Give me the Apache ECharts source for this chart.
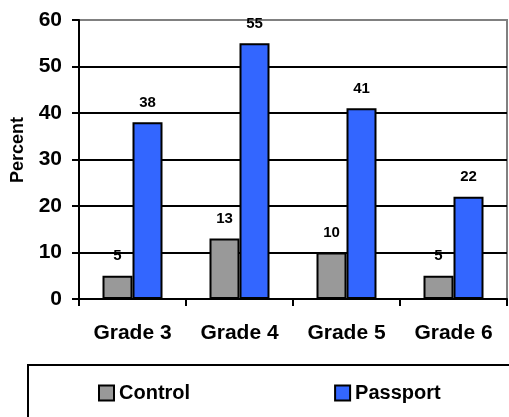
<!DOCTYPE html>
<html>
<head>
<meta charset="utf-8">
<script src="https://cdn.jsdelivr.net/npm/echarts@6/dist/echarts.min.js"></script>
<style>
  html, body { margin: 0; padding: 0; background: #fff; }
  #chart { width: 509px; height: 417px; }
</style>
</head>
<body>
<div id="chart"></div>
<script>
    // 数据
    const categories = ['Grade 3', 'Grade 4', 'Grade 5', 'Grade 6'];
    const controlValues = [5, 13, 10, 5];
    const passportValues = [38, 55, 41, 22];
    const yTicks = { min: 0, max: 60, interval: 10 };

    const font = "'Liberation Sans', Arial, sans-serif";

    const barLabel = {
        show: true,
        position: 'top',
        distance: 12,
        color: '#000',
        fontFamily: font,
        fontWeight: 'bold',
        fontSize: 15
    };

    const chart = echarts.init(document.getElementById('chart'));
    const option = {
        backgroundColor: '#fff',
        animation: false,
        grid: {
            left: 79,
            right: 2,
            top: 20,
            bottom: 118,
            show: true,
            borderColor: '#808080',
            borderWidth: 2,
            backgroundColor: 'transparent'
        },
        legend: {
            left: 98,
            top: 383,
            padding: 0,
            itemWidth: 15,
            itemHeight: 15,
            itemGap: 144,
            icon: 'rect',
            textStyle: {
                fontFamily: font,
                fontWeight: 'bold',
                fontSize: 20,
                color: '#000'
            },
            data: ['Control', 'Passport']
        },
        // 图例外框
        graphic: [{
            type: 'rect',
            shape: { x: 28, y: 365, width: 600, height: 100 },
            style: { fill: 'none', stroke: '#000', lineWidth: 2 },
            silent: true
        }],
        xAxis: {
            type: 'category',
            data: categories,
            axisLine: { lineStyle: { color: '#000', width: 2 } },
            axisTick: { show: true, length: 7, lineStyle: { color: '#000', width: 2 } },
            axisLabel: {
                margin: 24,
                color: '#000',
                fontFamily: font,
                fontWeight: 'bold',
                fontSize: 21
            }
        },
        yAxis: {
            type: 'value',
            min: yTicks.min,
            max: yTicks.max,
            interval: yTicks.interval,
            name: 'Percent',
            nameLocation: 'middle',
            nameRotate: 90,
            nameGap: 52,
            nameTextStyle: {
                color: '#000',
                fontFamily: font,
                fontWeight: 'bold',
                fontSize: 18,
                padding: [0, 0, 0, 19]
            },
            axisLine: { show: true, lineStyle: { color: '#000', width: 2 } },
            axisTick: { show: true, length: 7, lineStyle: { color: '#000', width: 2 } },
            axisLabel: {
                margin: 17,
                color: '#000',
                fontFamily: font,
                fontWeight: 'bold',
                fontSize: 21
            },
            splitLine: {
                show: true,
                showMaxLine: false,
                lineStyle: { color: '#000', width: 2 }
            }
        },
        series: [
            {
                name: 'Control',
                type: 'bar',
                data: controlValues,
                barWidth: 30,
                barGap: '0%',
                itemStyle: { color: '#999999', borderColor: '#000', borderWidth: 2 },
                label: barLabel
            },
            {
                name: 'Passport',
                type: 'bar',
                data: passportValues,
                barWidth: 30,
                barGap: '0%',
                itemStyle: { color: '#3366ff', borderColor: '#000', borderWidth: 2 },
                label: barLabel
            }
        ]
    };
    chart.setOption(option);
</script>
</body>
</html>
